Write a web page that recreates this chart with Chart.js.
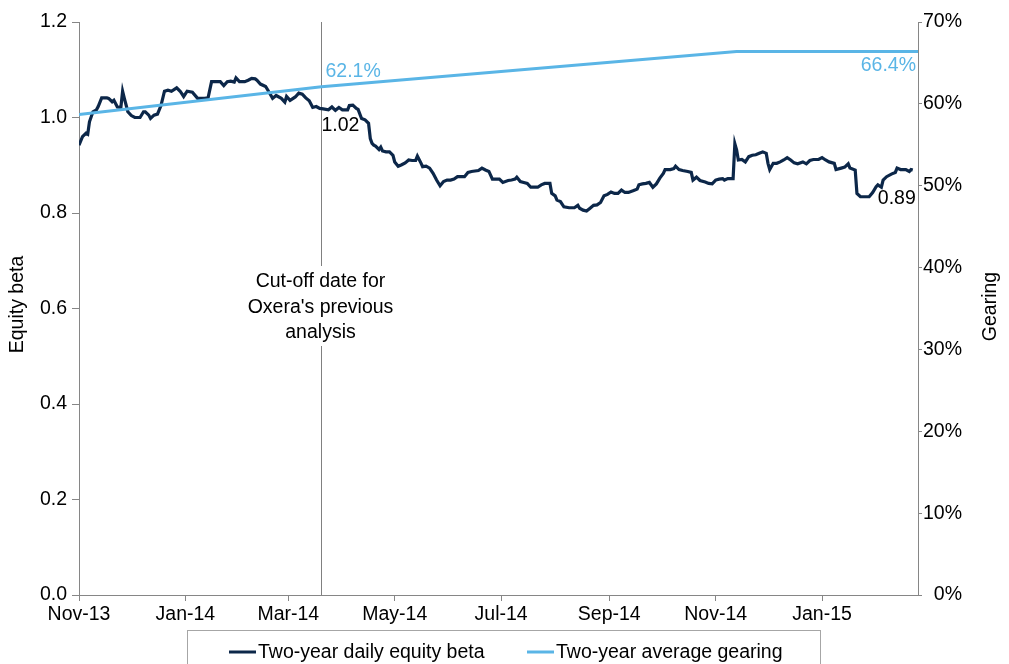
<!DOCTYPE html>
<html>
<head>
<meta charset="utf-8">
<script src="https://cdn.jsdelivr.net/npm/chart.js@4.4.1/dist/chart.umd.min.js"></script>
<style>
  html, body { margin: 0; padding: 0; background: #fff; }
  #wrap { width: 1009px; height: 664px; }
</style>
</head>
<body>
<div id="wrap"><canvas id="chart" width="1009" height="664"></canvas></div>
<script>
// x values are days counted from 1 Nov 2013
const tickDays = [0, 61, 120, 181, 242, 304, 365, 426];
const tickLabels = ['Nov-13', 'Jan-14', 'Mar-14', 'May-14', 'Jul-14', 'Sep-14', 'Nov-14', 'Jan-15'];
const lastDay = 481;
const cutoffDay = 139;

const betaDays = [0,2,4,5,6,8,10,11,13,16,17,19,20,22,24,25,26,28,30,32,35,37,38,40,41,43,45,47,49,51,53,56,58,60,62,65,68,70,72,74,76,80,81,83,85,87,89,90,92,95,97,99,101,102,104,107,109,111,113,116,118,119,121,124,126,128,130,132,134,136,138,140,143,145,147,149,151,154,155,157,159,160,162,164,166,167,168,169,170,172,173,174,176,178,180,181,183,185,187,189,191,193,194,196,197,199,201,203,205,207,209,211,213,215,217,219,221,223,225,227,229,231,233,235,237,239,241,243,246,248,250,251,253,255,257,259,261,263,265,267,270,271,273,274,276,278,281,284,286,287,289,291,293,295,297,299,301,303,305,307,309,311,313,315,318,320,321,323,325,327,329,331,333,335,336,339,341,342,344,346,349,351,352,354,356,359,361,363,365,367,369,370,372,375,376,377,378,380,382,384,386,388,390,392,394,395,396,398,400,402,404,406,408,410,412,415,417,419,421,424,426,428,430,433,434,437,439,441,442,445,446,448,453,455,457,458,460,461,463,466,468,469,471,474,476,477,478];
const betaValues = [0.942,0.960,0.967,0.965,0.991,1.012,1.016,1.023,1.041,1.041,1.040,1.033,1.036,1.022,1.021,1.055,1.040,1.012,1.004,1.000,1.000,1.012,1.012,1.005,0.998,1.005,1.007,1.025,1.055,1.057,1.055,1.062,1.055,1.044,1.055,1.053,1.040,1.040,1.040,1.041,1.075,1.075,1.075,1.067,1.075,1.076,1.074,1.083,1.075,1.075,1.078,1.082,1.081,1.078,1.070,1.065,1.053,1.040,1.046,1.040,1.032,1.044,1.036,1.043,1.051,1.049,1.041,1.035,1.021,1.023,1.019,1.018,1.016,1.022,1.015,1.021,1.016,1.016,1.025,1.026,1.019,1.017,0.998,0.995,0.988,0.956,0.946,0.942,0.940,0.933,0.938,0.930,0.928,0.928,0.921,0.907,0.898,0.901,0.905,0.911,0.910,0.910,0.919,0.905,0.897,0.898,0.894,0.883,0.869,0.857,0.866,0.869,0.869,0.871,0.876,0.876,0.876,0.885,0.887,0.888,0.889,0.894,0.890,0.887,0.871,0.871,0.871,0.864,0.868,0.869,0.871,0.875,0.866,0.864,0.862,0.854,0.854,0.854,0.859,0.862,0.862,0.841,0.836,0.827,0.824,0.813,0.811,0.811,0.816,0.810,0.806,0.804,0.810,0.816,0.817,0.822,0.836,0.839,0.844,0.841,0.841,0.848,0.843,0.843,0.847,0.850,0.859,0.861,0.862,0.864,0.854,0.861,0.873,0.883,0.891,0.891,0.893,0.898,0.891,0.889,0.887,0.885,0.869,0.875,0.868,0.865,0.862,0.861,0.869,0.871,0.872,0.869,0.872,0.872,0.945,0.932,0.911,0.912,0.907,0.918,0.921,0.922,0.925,0.928,0.925,0.904,0.891,0.904,0.904,0.907,0.911,0.916,0.911,0.905,0.903,0.907,0.903,0.910,0.912,0.912,0.916,0.911,0.907,0.904,0.891,0.894,0.896,0.903,0.894,0.890,0.841,0.834,0.834,0.843,0.855,0.859,0.854,0.869,0.876,0.882,0.885,0.894,0.891,0.891,0.887,0.891,0.890];

const gearingDays = [0, 139, 377, 481];
const gearingValues = [58.7, 62.1, 66.4, 66.4];

const betaLabel = 'Two-year daily equity beta';
const gearingLabel = 'Two-year average gearing';
const noteLines = ['Cut-off date for', "Oxera's previous", 'analysis'];

const navy = '#0c2749';
const sky = '#5ab5e6';
const axisGrey = '#868686';
const fontFamily = "'Liberation Sans', Arial, sans-serif";
const fontSize = 19.5;

Chart.defaults.font.family = fontFamily;
Chart.defaults.font.size = fontSize;
Chart.defaults.color = '#000';

const toPoints = (xs, ys) => xs.map((d, i) => ({ x: d, y: ys[i] }));

// annotations, axis titles and the boxed legend
const extras = {
  id: 'extras',
  beforeDatasetsDraw(chart) {
    const ctx = chart.ctx, area = chart.chartArea;
    const px = Math.round(chart.scales.x.getPixelForValue(cutoffDay)) + 0.5;
    ctx.save();
    ctx.strokeStyle = '#808080';
    ctx.lineWidth = 1;
    ctx.beginPath();
    ctx.moveTo(px, area.top);
    ctx.lineTo(px, area.bottom);
    ctx.stroke();
    // note text sits on a white box over the line
    const midY = area.top + 286;
    ctx.fillStyle = '#fff';
    ctx.fillRect(px - 80, midY - 42, 160, 80);
    ctx.fillStyle = '#000';
    ctx.font = fontSize + 'px ' + fontFamily;
    ctx.textAlign = 'center';
    ctx.textBaseline = 'middle';
    noteLines.forEach((t, i) => ctx.fillText(t, px - 1, midY - 26 + i * 25.5));
    ctx.restore();
  },
  afterDatasetsDraw(chart) {
    const ctx = chart.ctx, sx = chart.scales.x, sy = chart.scales.y, sy1 = chart.scales.y1;
    const cutIdx = betaDays.indexOf(138);
    const cutBeta = betaValues[cutIdx];
    const endBeta = betaValues[betaValues.length - 1];
    const cutGear = gearingValues[1];
    const endGear = gearingValues[gearingValues.length - 1];
    const cx = sx.getPixelForValue(cutoffDay);
    const ex = sx.getPixelForValue(betaDays[betaDays.length - 1]);
    ctx.save();
    ctx.font = fontSize + 'px ' + fontFamily;
    ctx.textBaseline = 'middle';
    ctx.fillStyle = sky;
    ctx.textAlign = 'left';
    ctx.fillText(cutGear.toFixed(1) + '%', cx + 4, sy1.getPixelForValue(cutGear) - 15);
    ctx.textAlign = 'right';
    ctx.fillText(endGear.toFixed(1) + '%', sx.getPixelForValue(lastDay) - 2, sy1.getPixelForValue(endGear) + 14);
    ctx.fillStyle = '#000';
    ctx.textAlign = 'left';
    ctx.fillText(cutBeta.toFixed(2), cx, sy.getPixelForValue(cutBeta) + 17);
    ctx.textAlign = 'right';
    ctx.fillText(endBeta.toFixed(2), ex + 3, sy.getPixelForValue(endBeta) + 29);
    ctx.restore();
  },
  afterDraw(chart) {
    const ctx = chart.ctx, area = chart.chartArea;
    const midY = (area.top + area.bottom) / 2;
    ctx.save();
    ctx.font = fontSize + 'px ' + fontFamily;
    ctx.fillStyle = '#000';
    ctx.textAlign = 'center';
    ctx.textBaseline = 'middle';
    ctx.translate(18, midY - 4);
    ctx.rotate(-Math.PI / 2);
    ctx.fillText('Equity beta', 0, 0);
    ctx.restore();

    ctx.save();
    ctx.font = fontSize + 'px ' + fontFamily;
    ctx.fillStyle = '#000';
    ctx.textAlign = 'center';
    ctx.textBaseline = 'middle';
    ctx.translate(991, midY - 2);
    ctx.rotate(-Math.PI / 2);
    ctx.fillText('Gearing', 0, 0);
    ctx.restore();

    // legend box
    ctx.save();
    ctx.strokeStyle = '#a6a6a6';
    ctx.lineWidth = 1;
    ctx.strokeRect(187.5, 630.5, 633, 50);
    ctx.font = fontSize + 'px ' + fontFamily;
    ctx.textBaseline = 'middle';
    ctx.textAlign = 'left';
    const ly = 652;
    [[229, navy, betaLabel], [527, sky, gearingLabel]].forEach(([lx, col, txt]) => {
      ctx.strokeStyle = col;
      ctx.lineWidth = 3;
      ctx.beginPath();
      ctx.moveTo(lx, ly);
      ctx.lineTo(lx + 27, ly);
      ctx.stroke();
      ctx.fillStyle = '#000';
      ctx.fillText(txt, lx + 29, ly + 1);
    });
    ctx.restore();
  }
};

new Chart(document.getElementById('chart'), {
  type: 'line',
  data: {
    datasets: [
      {
        label: betaLabel,
        data: toPoints(betaDays, betaValues),
        yAxisID: 'y',
        borderColor: navy,
        borderWidth: 3.2,
        pointRadius: 0,
        tension: 0,
        order: 2
      },
      {
        label: gearingLabel,
        data: toPoints(gearingDays, gearingValues),
        yAxisID: 'y1',
        borderColor: sky,
        borderWidth: 3,
        pointRadius: 0,
        tension: 0,
        order: 1
      }
    ]
  },
  options: {
    responsive: false,
    animation: false,
    layout: { padding: { top: 22, right: 47, left: 0, bottom: 0 } },
    plugins: { legend: { display: false }, tooltip: { enabled: false } },
    scales: {
      x: {
        type: 'linear',
        min: 0,
        max: lastDay,
        afterBuildTicks: s => { s.ticks = tickDays.map(v => ({ value: v })); },
        afterFit: s => { s.height = 69; },
        ticks: {
          autoSkip: false,
          maxRotation: 0,
          padding: 2,
          callback: v => tickLabels[tickDays.indexOf(v)] || ''
        },
        grid: { drawOnChartArea: false, tickLength: 6, color: axisGrey },
        border: { color: axisGrey }
      },
      y: {
        position: 'left',
        min: 0,
        max: 1.2,
        afterFit: s => { s.width = 79; },
        ticks: { stepSize: 0.2, padding: 5, callback: v => v.toFixed(1) },
        grid: { drawOnChartArea: false, tickLength: 7, color: axisGrey },
        border: { color: axisGrey }
      },
      y1: {
        position: 'right',
        min: 0,
        max: 70,
        afterFit: s => { s.width = 44; },
        ticks: { stepSize: 10, crossAlign: 'far', callback: v => v + '%' },
        grid: { drawOnChartArea: false, tickLength: 4, color: axisGrey },
        border: { color: axisGrey }
      }
    }
  },
  plugins: [extras]
});
</script>
</body>
</html>
